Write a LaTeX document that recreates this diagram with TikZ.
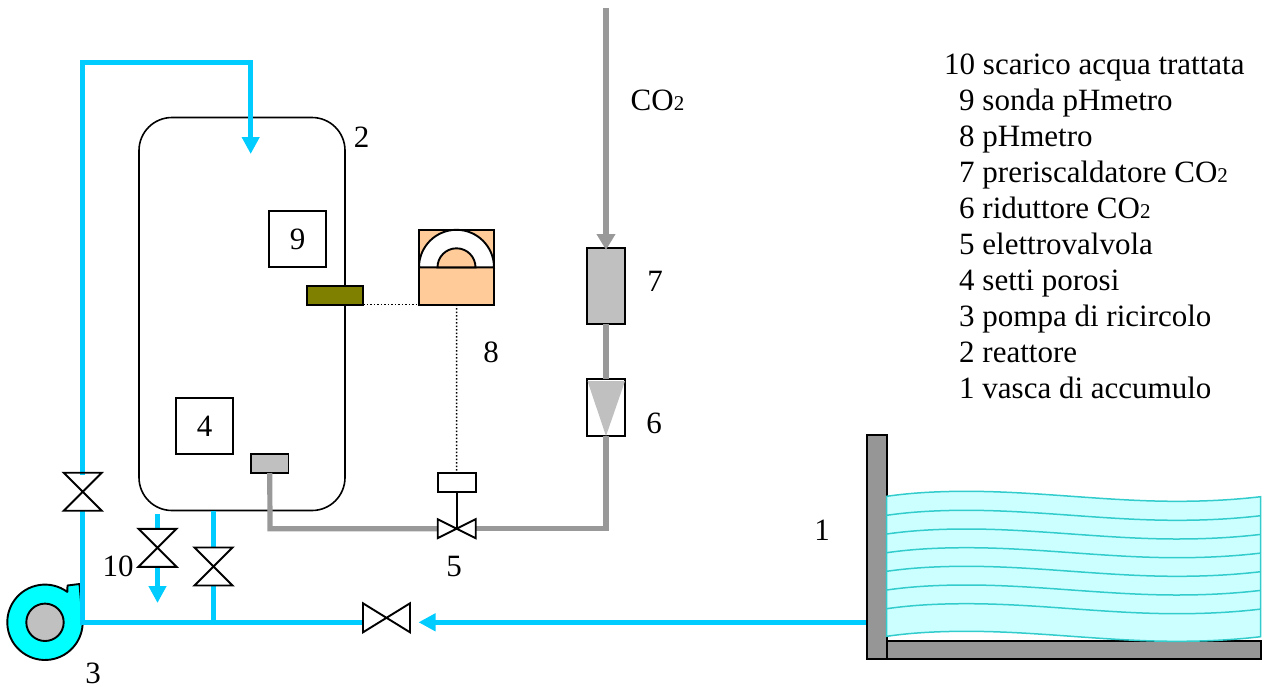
\documentclass[tikz,border=0pt]{standalone}
\usepackage{fontspec}
\setmainfont{Liberation Serif}
\usetikzlibrary{arrows.meta}
\definecolor{pipeblue}{HTML}{00CCFF}
\definecolor{pipegray}{HTML}{999999}
\definecolor{boxgray}{HTML}{C0C0C0}
\definecolor{tankgray}{HTML}{969696}
\definecolor{peach}{HTML}{FFCC99}
\definecolor{probe}{HTML}{808000}
\definecolor{water}{HTML}{CCFFFF}
\definecolor{waterline}{HTML}{33CCCC}
\definecolor{pumpcyan}{HTML}{00FFFF}
\newcommand{\cotwo}{CO{\fontsize{21}{21}\selectfont 2}}
\tikzset{
  x=1pt,y=-1pt,
  bluepipe/.style={draw=pipeblue,line width=5pt},
  graypipe/.style={draw=pipegray,line width=5.2pt},
  bluehead/.style={-{Triangle[length=17pt,width=17pt]}},
  grayhead/.style={-{Triangle[length=16pt,width=18pt]}},
  outline/.style={draw=black,line width=1.9pt},
  thinline/.style={draw=black,line width=1.6pt},
  block/.style={outline,rectangle,inner sep=0pt,outer sep=0pt,anchor=north west},
  lab/.style={font=\fontsize{31}{31}\selectfont,inner sep=0pt},
  legend/.style={font=\fontsize{31}{31}\selectfont,inner sep=0pt,anchor=base west},
  pics/vvalve/.style={code={
    \draw[outline,line join=miter] (-19,-19) -- (19,-19) -- (-19,19) -- (19,19) -- cycle;}},
  pics/hvalve/.style={code={
    \draw[outline,line join=miter] (-19,-9.5) -- (19,9.5) -- (19,-9.5) -- (-19,9.5) -- cycle;}},
  pics/bigvalve/.style={code={
    \draw[outline,line join=miter] (-23.5,-14.5) -- (23.5,14.5) -- (23.5,-14.5) -- (-23.5,14.5) -- cycle;}},
}
\begin{document}
\begin{tikzpicture}
\useasboundingbox (0,0) rectangle (1267,686);
% reactor
\draw[thinline,rounded corners=33pt] (139,117.5) rectangle (345,510.5);
\node[block,minimum width=57pt,minimum height=56pt] (b9) at (269,211) {};
\node[lab] at (b9.center) {9};
\node[block,minimum width=57pt,minimum height=56pt] (b4) at (176,398) {};
\node[lab] at (b4.center) {4};
% coordinates of the blue circuit
\coordinate (pumpout) at (82.7,622.3);
\coordinate (ltop) at (82.7,62);
\coordinate (rtop) at (250.7,62);
\coordinate (inlet) at (250.7,154);
\coordinate (v1up) at (82.7,472.7);
\coordinate (v1dn) at (82.7,510.7);
\coordinate (tee) at (213.5,622.3);
\coordinate (v3dn) at (213.5,585.3);
\coordinate (v3up) at (213.5,547.7);
\coordinate (rbot) at (213.5,510.5);
\coordinate (v2up) at (157.5,529);
\coordinate (v2dn) at (157.5,566.7);
\coordinate (dstart) at (157.5,514);
\coordinate (dtip) at (157.5,603);
\coordinate (hend) at (363,622.3);
\coordinate (harrow) at (418.5,622.3);
\coordinate (tankout) at (868,622.3);
% pump
\draw[outline,fill=pumpcyan,line join=round] (67.3,591.9) arc[start angle=-53.7,end angle=-360,radius=37.7] -- (79.5,584) -- (67.5,585.5) -- cycle;
\node[inner sep=0pt,outer sep=0pt,minimum size=75.4pt,circle] (pump) at (45,622.3) {};
\node[draw=black,line width=1.9pt,fill=boxgray,circle,minimum size=37.4pt,inner sep=0pt,outer sep=0pt] (pumpcore) at (pump.center) {};
% blue pipes
\draw[bluepipe,line cap=rect,line join=miter] (v1up) -- (ltop) -- (rtop);
\draw[bluepipe,bluehead] (rtop) -- (inlet);
\draw[bluepipe] (v1dn) -- (pumpout) -- (hend);
\draw[bluepipe] (tee) -- (v3dn);
\draw[bluepipe] (v3up) -- (rbot);
\draw[bluepipe] (dstart) -- (v2up);
\draw[bluepipe,bluehead] (v2dn) -- (dtip);
\draw[bluepipe,bluehead] (tankout) -- (harrow);
\pic at (82.7,491.7) {vvalve};
\pic at (157.5,547.8) {vvalve};
\pic at (213.5,566.5) {vvalve};
\pic at (386.5,617.8) {bigvalve};
% gray circuit
\node[block,fill=boxgray,minimum width=37.5pt,minimum height=18.7pt] (diff) at (251,454.3) {};
\node[block,fill=boxgray,minimum width=38pt,minimum height=75.7pt] (b7) at (587,248) {};
\node[block,fill=white,minimum width=38pt,minimum height=56.7pt] (b6) at (587,379) {};
\fill[boxgray] (587.5,381) -- (625,381) -- (606,436) -- cycle;
\coordinate (ctop) at (606,8);
\coordinate (ctip) at (606,250);
\coordinate (ccorner) at (606,528.7);
\coordinate (dcorner) at (270,528.7);
\coordinate (v5l) at (438,528.7);
\coordinate (v5r) at (476,528.7);
\draw[graypipe,grayhead] (ctop) -- (ctip);
\draw[graypipe] (b7.south) -- (b6.north);
\draw[graypipe,line join=miter] (b6.south) -- (ccorner) -- (v5r);
\draw[graypipe,line join=miter] (diff.south) -- (dcorner) -- (v5l);
% solenoid valve
\pic at (456.7,528.7) {hvalve};
\node[block,fill=white,minimum width=38pt,minimum height=19pt] (act) at (437.7,472.7) {};
\coordinate (vc) at (456.7,528.7);
\draw[outline] (act.south) -- (vc);
% pH meter
\node[block,fill=peach,minimum width=75pt,minimum height=74.7pt] (meter) at (419,230) {};
\draw[outline,fill=white] (419,267.3) arc[start angle=180,end angle=360,radius=37.5] -- cycle;
\draw[outline,fill=peach] (437.5,267.3) arc[start angle=180,end angle=360,radius=19] -- cycle;
\node[block,fill=probe,minimum width=56.6pt,minimum height=18.7pt] (probe) at (306.7,286) {};
\draw[black,line width=1.5pt,dotted] (probe.south east) -- (meter.south west);
\draw[black,line width=1.5pt,dotted] (meter.south) -- (act.north);
% tank
\node[block,fill=tankgray,minimum width=19.4pt,minimum height=224pt] (wall) at (867.3,435.3) {};
\node[block,fill=tankgray,minimum width=374pt,minimum height=18.3pt] (base) at (886.7,641) {};
\fill[water] (886.7,496.3) .. controls (913,492.5) and (940,491.3) .. (966.7,491.3) .. controls (1037,491.3) and (1106,501.3) .. (1176.7,501.3) .. controls (1205,501.3) and (1232,500) .. (1260.7,496.7) -- (1260.7,636.7) .. controls (1232,640) and (1205,641.3) .. (1176.7,641.3) .. controls (1106,641.3) and (1037,631.3) .. (966.7,631.3) .. controls (940,631.3) and (913,632.5) .. (886.7,636.3) -- cycle;
\draw[waterline,line width=1.5pt] (886.7,496.3) .. controls (913,492.5) and (940,491.3) .. (966.7,491.3) .. controls (1037,491.3) and (1106,501.3) .. (1176.7,501.3) .. controls (1205,501.3) and (1232,500) .. (1260.7,496.7) -- (1260.7,636.7) .. controls (1232,640) and (1205,641.3) .. (1176.7,641.3) .. controls (1106,641.3) and (1037,631.3) .. (966.7,631.3) .. controls (940,631.3) and (913,632.5) .. (886.7,636.3) -- cycle;
\foreach \oy in {515.3,534,552.7,571.3,590,608.7}{
  \draw[waterline,line width=1.5pt] (886.7,\oy) .. controls (913,\oy-3.8) and (940,\oy-5) .. (966.7,\oy-5) .. controls (1037,\oy-5) and (1106,\oy+5) .. (1176.7,\oy+5) .. controls (1205,\oy+5) and (1232,\oy+3.7) .. (1260.7,\oy+0.4);
}
% labels
\node[lab] (l1) at (822,530) {1};
\node[lab] (l2) at (361.5,137) {2};
\node[lab] (l3) at (93,673.5) {3};
\node[lab] (l5) at (454,566) {5};
\node[lab] (l6) at (654,423) {6};
\node[lab] (l7) at (655,281) {7};
\node[lab] (l8) at (491,352) {8};
\node[lab] (l10) at (118,566) {10};
\node[legend] (co) at (630.5,110) {\cotwo};
% legend
\node[legend] (t10) at (944,74) {10 scarico acqua trattata};
\node[legend] (t9) at (959,110) {9 sonda pHmetro};
\node[legend] (t8) at (959,146) {8 pHmetro};
\node[legend] (t7) at (959,182) {7 preriscaldatore \cotwo};
\node[legend] (t6) at (959,218) {6 riduttore \cotwo};
\node[legend] (t5) at (959,254) {5 elettrovalvola};
\node[legend] (t4) at (959,290) {4 setti porosi};
\node[legend] (t3) at (959,326) {3 pompa di ricircolo};
\node[legend] (t2) at (959,362) {2 reattore};
\node[legend] (t1) at (959,398) {1 vasca di accumulo};
\end{tikzpicture}
\end{document}
